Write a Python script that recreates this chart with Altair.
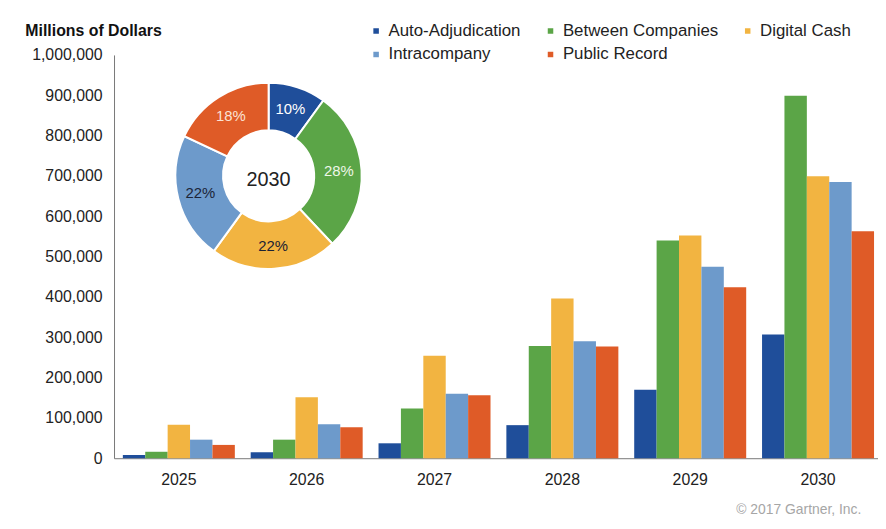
import altair as alt
import pandas as pd

years = ["2025", "2026", "2027", "2028", "2029", "2030"]
series = ["Auto-Adjudication", "Between Companies", "Digital Cash", "Intracompany", "Public Record"]
colors = ["#1F4E9A", "#5BA547", "#F2B441", "#6D9ACB", "#DF5B27"]

auto_adj = [8000, 15000, 37000, 82000, 170000, 307000]
between = [16000, 46000, 123000, 278000, 540000, 899000]
digital = [83000, 151000, 254000, 396000, 552000, 699000]
intra = [46000, 84000, 160000, 290000, 475000, 685000]
public = [33000, 77000, 156000, 277000, 424000, 563000]

pie_pct = [10, 28, 22, 22, 18]
pie_labels = ["10%", "28%", "22%", "22%", "18%"]
pie_label_colors = ["#ffffff", "#eef7e8", "#1c2233", "#1c2538", "#fbe3d4"]
pie_center = ["2030"]
y_ticks = [0, 100000, 200000, 300000, 400000, 500000, 600000, 700000, 800000, 900000, 1000000]
footer = ["\u00a9 2017 Gartner, Inc."]

all_vals = [auto_adj, between, digital, intra, public]
rows = []
for s, vals in zip(series, all_vals):
    for y, v in zip(years, vals):
        rows.append({"year": y, "series": s, "value": v})
bars_df = pd.DataFrame(rows)

pie_df = pd.DataFrame({
    "series": series,
    "pct": pie_pct,
    "label": pie_labels,
    "lc": pie_label_colors,
    "idx": list(range(len(series))),
})

color_scale = alt.Scale(domain=series, range=colors)

bars = alt.Chart(bars_df).mark_bar().encode(
    x=alt.X("year:N", sort=years,
            scale=alt.Scale(paddingInner=0.124, paddingOuter=0.05, align=0.69),
            axis=alt.Axis(title=None, labelAngle=0, ticks=False, domainColor="#777777",
                          labelFontSize=16, labelPadding=14, labelColor="#222222")),
    xOffset=alt.XOffset("series:N", sort=series),
    y=alt.Y("value:Q", scale=alt.Scale(domain=[0, 1000000], nice=False),
            axis=alt.Axis(values=y_ticks, format=",.0f", grid=False, ticks=False,
                          domainColor="#777777", labelFontSize=16, labelPadding=12,
                          labelColor="#222222",
                          title="Millions of Dollars", titleAngle=0, titleAlign="left",
                          titleBaseline="middle", titleX=-90, titleY=-25,
                          titleFontSize=16, titleFontWeight="bold", titleColor="#111111")),
    color=alt.Color("series:N", scale=color_scale, sort=series,
                    legend=alt.Legend(title=None, orient="none", legendX=256, legendY=-33,
                                      direction="horizontal", columns=3, symbolType="square",
                                      symbolSize=50, labelFontSize=17, columnPadding=21,
                                      rowPadding=6, labelColor="#222222", labelLimit=300)),
)

cx, cy = 156, 122

arc = alt.Chart(pie_df).mark_arc(innerRadius=46, outerRadius=94, stroke="white", strokeWidth=2).encode(
    theta=alt.Theta("pct:Q", stack=True),
    color=alt.Color("series:N", scale=color_scale, sort=series),
    order=alt.Order("idx:Q"),
    x=alt.value(cx),
    y=alt.value(cy),
)

arc_labels = alt.Chart(pie_df).mark_text(radius=71, fontSize=15).encode(
    theta=alt.Theta("pct:Q", stack=True),
    order=alt.Order("idx:Q"),
    text=alt.Text("label:N"),
    color=alt.Color("lc:N", scale=None),
    x=alt.value(cx),
    y=alt.value(cy),
)

center = alt.Chart(pd.DataFrame({"t": pie_center})).mark_text(fontSize=20, color="#222222").encode(
    text="t:N", x=alt.value(cx), y=alt.value(cy + 4),
)

foot = alt.Chart(pd.DataFrame({"t": footer})).mark_text(fontSize=14, color="#a6a6a6", align="left").encode(
    text="t:N", x=alt.value(628), y=alt.value(459),
)

chart = alt.layer(bars, arc, arc_labels, center, foot).properties(
    width=771, height=407,
    autosize=alt.AutoSizeParams(type="none"),
    padding={"left": 107, "top": 45, "right": 0, "bottom": 62},
).configure(font="Liberation Sans").configure_view(stroke=None)

chart.save("out.html", embed_options={"renderer": "svg", "actions": False})
